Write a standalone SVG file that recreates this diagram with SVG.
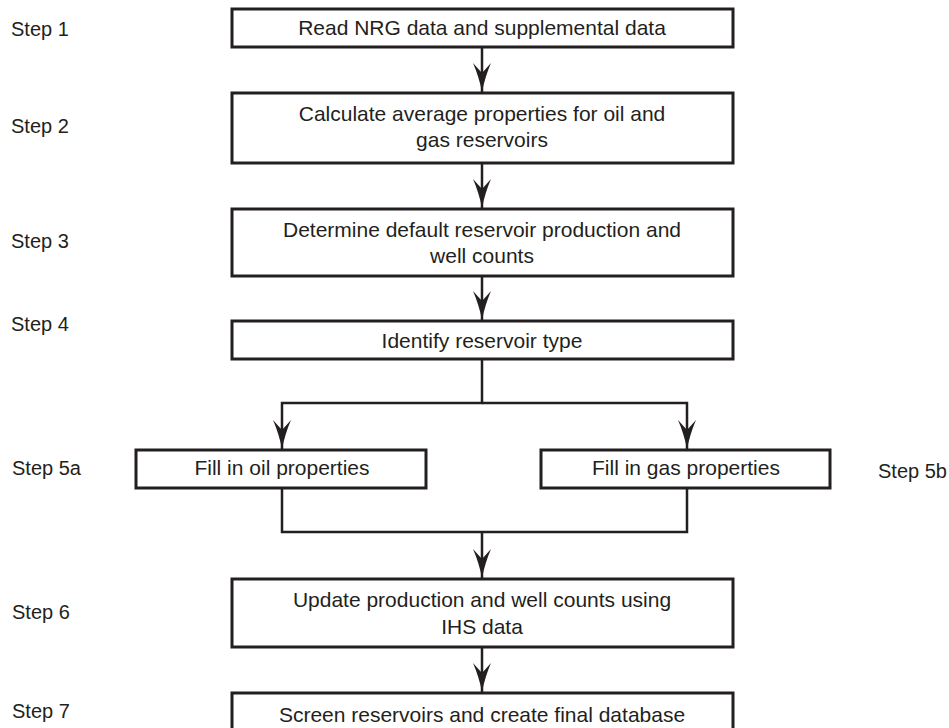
<svg xmlns="http://www.w3.org/2000/svg" width="949" height="728" viewBox="0 0 949 728">
<style>
.box{fill:#fff;stroke:#231f20;stroke-width:3}
.t{font-family:"Liberation Sans",Arial,sans-serif;font-size:21px;fill:#231f20;text-anchor:middle}
.s{font-family:"Liberation Sans",Arial,sans-serif;font-size:20px;fill:#231f20}
.c{fill:none;stroke:#231f20;stroke-width:2.5}
</style>
<defs>
<marker id="ah" markerUnits="userSpaceOnUse" markerWidth="32" markerHeight="22" viewBox="-30 -11 32 22" refX="0" refY="0" orient="auto">
<path d="M0,0 C-10,-2 -20,-5 -29,-9 L-19,0 L-29,9 C-20,5 -10,2 0,0Z" fill="#231f20"/>
</marker>
</defs>
<rect width="949" height="728" fill="#fff"/>
<g id="labels">
<text class="s" x="11" y="36">Step 1</text>
<text class="s" x="11" y="133">Step 2</text>
<text class="s" x="11" y="248">Step 3</text>
<text class="s" x="11" y="331">Step 4</text>
<text class="s" x="12" y="475">Step 5a</text>
<text class="s" x="878" y="478">Step 5b</text>
<text class="s" x="12" y="619">Step 6</text>
<text class="s" x="12" y="718">Step 7</text>
</g>
<g id="connectors">
<path class="c" d="M482,47 V92" marker-end="url(#ah)"/>
<path class="c" d="M482,163 V208" marker-end="url(#ah)"/>
<path class="c" d="M482,276 V320" marker-end="url(#ah)"/>
<path class="c" d="M482,359 V403 H282 V449" marker-end="url(#ah)"/>
<path class="c" d="M482,403 H687 V449" marker-end="url(#ah)"/>
<path class="c" d="M282,488 V532 H687 V488"/>
<path class="c" d="M482,532 V578" marker-end="url(#ah)"/>
<path class="c" d="M482,647 V692" marker-end="url(#ah)"/>
</g>
<g id="step1"><rect class="box" x="232" y="9" width="501" height="38"/><text class="t" x="482" y="35">Read NRG data and supplemental data</text></g>
<g id="step2"><rect class="box" x="232" y="93" width="501" height="70"/><text class="t" x="482" y="121">Calculate average properties for oil and</text><text class="t" x="482" y="147">gas reservoirs</text></g>
<g id="step3"><rect class="box" x="232" y="209" width="501" height="67"/><text class="t" x="482" y="237">Determine default reservoir production and</text><text class="t" x="482" y="263">well counts</text></g>
<g id="step4"><rect class="box" x="232" y="321" width="501" height="38"/><text class="t" x="482" y="348">Identify reservoir type</text></g>
<g id="step5a"><rect class="box" x="136" y="450" width="290" height="38"/><text class="t" x="282" y="475">Fill in oil properties</text></g>
<g id="step5b"><rect class="box" x="541" y="450" width="289" height="38"/><text class="t" x="686" y="475">Fill in gas properties</text></g>
<g id="step6"><rect class="box" x="232" y="579" width="501" height="68"/><text class="t" x="482" y="607">Update production and well counts using</text><text class="t" x="482" y="634">IHS data</text></g>
<g id="step7"><rect class="box" x="232" y="693" width="501" height="40"/><text class="t" x="482" y="722">Screen reservoirs and create final database</text></g>
</svg>
